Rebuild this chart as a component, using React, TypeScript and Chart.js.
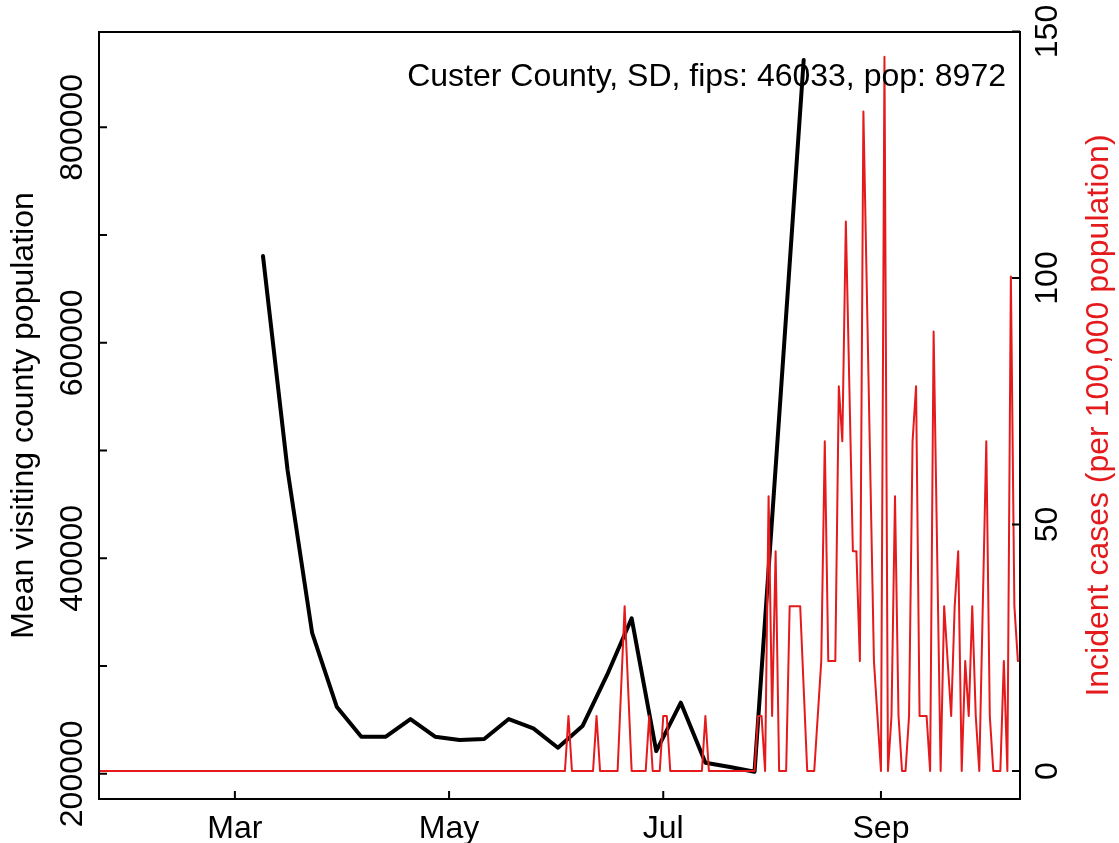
import React, { useEffect, useRef } from 'react';
import { Chart, registerables } from 'chart.js';

Chart.register(...registerables);

const W = 1119;
const H = 843;

// x values are day-of-year in 2020 (0 = Jan 1, 60 = Mar 1)
const visitDays = [68, 75, 82, 89, 96, 103, 110, 117, 124, 131, 138, 145, 152, 159, 166, 173, 180, 187, 194, 201, 208, 215, 222];
const visitValues = [680500, 482000, 330700, 262300, 234400, 234400, 250800, 234400, 231400, 232300, 250800, 242200, 224200, 244300, 291700, 344300, 221100, 266000, 210300, 206300, 201900, 531000, 862500];

const caseDays = [20, 154, 155, 156, 162, 163, 164, 169, 171, 173, 177, 178, 179, 181, 182, 183, 184, 193, 194, 195, 208, 209, 210, 211, 212, 213, 214, 215, 217, 218, 221, 223, 225, 227, 228, 229, 231, 232, 233, 234, 236, 237, 238, 239, 242, 244, 245, 246, 247, 248, 249, 250, 251, 252, 253, 254, 255, 257, 258, 259, 261, 262, 264, 265, 266, 267, 268, 269, 270, 271, 272, 274, 275, 276, 278, 279, 280, 281, 282, 283];
const caseValues = [0, 0, 11.15, 0, 0, 11.15, 0, 0, 33.44, 0, 0, 11.15, 0, 0, 11.15, 11.15, 0, 0, 11.15, 0, 0, 11.15, 11.15, 0, 55.73, 11.15, 44.58, 0, 0, 33.44, 33.44, 0, 0, 22.29, 66.87, 22.29, 22.29, 78.02, 66.87, 111.46, 44.58, 44.58, 22.29, 133.75, 22.29, 0, 144.9, 0, 11.15, 55.73, 11.15, 0, 0, 11.15, 66.87, 78.02, 11.15, 11.15, 0, 89.17, 0, 33.44, 11.15, 33.44, 44.58, 0, 22.29, 11.15, 33.44, 11.15, 0, 66.87, 11.15, 0, 0, 22.29, 0, 100.31, 33.44, 22.29];

const xTickDays = [60, 121, 182, 244];
const xTickLabels = ['Mar', 'May', 'Jul', 'Sep'];
const leftTicks = [200000, 300000, 400000, 500000, 600000, 700000, 800000];
const leftTickLabels = ['200000', '', '400000', '', '600000', '', '800000'];
const rightTicks = [0, 50, 100, 150];
const rightTickLabels = ['0', '50', '100', '150'];

const annotationText = 'Custer County, SD, fips: 46033, pop: 8972';
const leftTitle = 'Mean visiting county population';
const rightTitle = 'Incident cases (per 100,000 population)';

const RED = '#E41A1C';
const FONT = '32px "Liberation Sans", Arial, Helvetica, sans-serif';

const rAxesPlugin = {
  id: 'rAxes',
  afterDatasetsDraw(chart: any) {
    const { ctx, chartArea: a, scales } = chart;
    const xs = scales.x;
    const yl = scales.yL;
    const yr = scales.yR;
    const TL = 8;
    ctx.save();
    ctx.strokeStyle = '#000';
    ctx.lineWidth = 2;
    ctx.strokeRect(a.left, a.top, a.right - a.left, a.bottom - a.top);
    ctx.beginPath();
    xTickDays.forEach((d) => {
      const px = xs.getPixelForValue(d);
      ctx.moveTo(px, a.bottom);
      ctx.lineTo(px, a.bottom - TL);
    });
    leftTicks.forEach((v) => {
      const py = yl.getPixelForValue(v);
      ctx.moveTo(a.left, py);
      ctx.lineTo(a.left + TL, py);
    });
    rightTicks.forEach((v) => {
      const py = yr.getPixelForValue(v);
      ctx.moveTo(a.right, py);
      ctx.lineTo(a.right - TL, py);
    });
    ctx.stroke();

    ctx.font = FONT;
    ctx.fillStyle = '#000';
    ctx.textBaseline = 'alphabetic';
    ctx.textAlign = 'center';
    xTickDays.forEach((d, i) => {
      ctx.fillText(xTickLabels[i], xs.getPixelForValue(d), 838);
    });

    const rotText = (t: string, x: number, y: number, color: string) => {
      ctx.save();
      ctx.translate(x, y);
      ctx.rotate(-Math.PI / 2);
      ctx.fillStyle = color;
      ctx.textAlign = 'center';
      ctx.textBaseline = 'alphabetic';
      ctx.fillText(t, 0, 0);
      ctx.restore();
    };
    leftTicks.forEach((v, i) => {
      if (leftTickLabels[i]) rotText(leftTickLabels[i], 82, yl.getPixelForValue(v), '#000');
    });
    rightTicks.forEach((v, i) => {
      rotText(rightTickLabels[i], 1057, yr.getPixelForValue(v), '#000');
    });
    const midY = (a.top + a.bottom) / 2;
    rotText(leftTitle, 33, midY, '#000');
    rotText(rightTitle, 1108, midY, RED);

    ctx.textAlign = 'right';
    ctx.fillStyle = '#000';
    ctx.fillText(annotationText, 1006, 86);
    ctx.restore();
  },
};

export default function App() {
  const ref = useRef<HTMLCanvasElement | null>(null);
  useEffect(() => {
    if (!ref.current) return;
    const chart = new Chart(ref.current, {
      type: 'line',
      data: {
        datasets: [
          {
            label: 'visiting',
            data: visitDays.map((d, i) => ({ x: d, y: visitValues[i] })),
            yAxisID: 'yL',
            borderColor: '#000',
            borderWidth: 4,
            pointRadius: 0,
            tension: 0,
            borderJoinStyle: 'round',
            borderCapStyle: 'round',
            fill: false,
            order: 1,
          },
          {
            label: 'cases',
            data: caseDays.map((d, i) => ({ x: d, y: caseValues[i] })),
            yAxisID: 'yR',
            borderColor: RED,
            borderWidth: 2,
            pointRadius: 0,
            tension: 0,
            borderJoinStyle: 'round',
            borderCapStyle: 'round',
            fill: false,
            order: 0,
          },
        ],
      },
      options: {
        animation: false,
        responsive: false,
        devicePixelRatio: 1,
        events: [],
        layout: { padding: { left: 99, right: 99, top: 32, bottom: 44 } },
        plugins: { legend: { display: false }, tooltip: { enabled: false }, title: { display: false } },
        scales: {
          x: { type: 'linear', min: 21.3, max: 283.6, display: false },
          yL: { type: 'linear', position: 'left', min: 176600, max: 888450, display: false },
          yR: { type: 'linear', position: 'right', min: -5.68, max: 149.9, display: false },
        },
      },
      plugins: [rAxesPlugin],
    } as any);
    return () => chart.destroy();
  }, []);
  return (
    <div style={{ position: 'absolute', left: 0, top: 0, width: W, height: H, background: '#fff' }}>
      <canvas ref={ref} width={W} height={H} style={{ display: 'block', width: W, height: H }} />
    </div>
  );
}
